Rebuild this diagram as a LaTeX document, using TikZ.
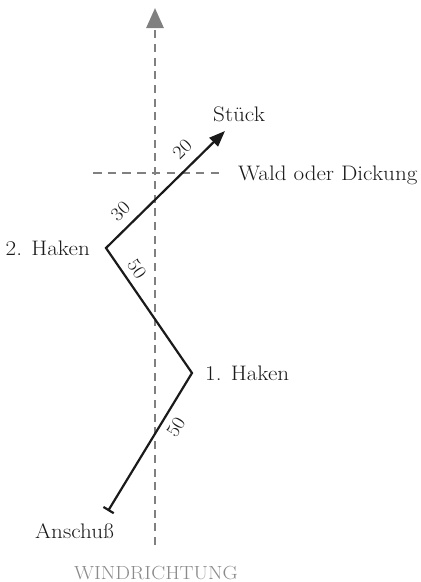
\documentclass[tikz,border=0pt]{standalone}
\usepackage{fontspec}
\setmainfont{Latin Modern Roman}[FakeStretch=1.1]
\usetikzlibrary{arrows.meta}
\definecolor{dgray}{HTML}{808080}
\definecolor{tgray}{HTML}{8A8A8A}
\definecolor{ink}{HTML}{1A1A1A}
\begin{document}
\begin{tikzpicture}[x=1pt,y=-1pt,
  lbl/.style={font=\fontsize{21}{24}\selectfont, text=ink, inner sep=0pt},
  num/.style={font=\fontsize{19}{22}\selectfont, text=ink, inner sep=0.5pt, sloped},
  guide/.style={draw=dgray, line width=2.7pt},
  track/.style={draw=ink, line width=2.2pt, line join=miter}]
\useasboundingbox (0,0) rectangle (421,582);
\coordinate (vb) at (155,545);
\coordinate (vt) at (155,8);
\coordinate (hl) at (93,173);
\coordinate (hr) at (219,173);
\draw[guide, dash pattern=on 8pt off 5.7pt, -{Triangle[length=20pt,width=17pt]}] (vb) -- (vt);
\draw[guide, dash pattern=on 8.5pt off 6.2pt] (hl) -- (hr);
\coordinate (an) at (108,511);
\coordinate (h1) at (192,373);
\coordinate (h2) at (106,248);
\coordinate (st) at (225,131);
\draw[track, {Bar[width=12pt]}-{Triangle[length=16pt,width=12pt]}]
  (an) -- node[num, below=6.5pt, pos=0.66] (n1) {50}
  (h1) -- node[num, above=5.5pt, pos=0.77] (n2) {50}
  (h2) -- node[num, above=8pt, pos=0.215] (n3) {30}
          node[num, above=9pt, pos=0.74] (n4) {20}
  (st);
\node[lbl, anchor=base west] (tst) at (213,121) {Stück};
\node[lbl, anchor=base west] (twald) at (238,180) {Wald oder Dickung};
\node[lbl, anchor=base west] (th1) at (205,380) {1. Haken};
\node[lbl, anchor=base east] (th2) at (90,255) {2. Haken};
\node[lbl, anchor=base west] (tan) at (35,538) {Anschuß};
\node[lbl, anchor=base, text=tgray, font=\fontsize{19}{22}\selectfont] (twind) at (156,579) {WINDRICHTUNG};
\end{tikzpicture}
\end{document}
